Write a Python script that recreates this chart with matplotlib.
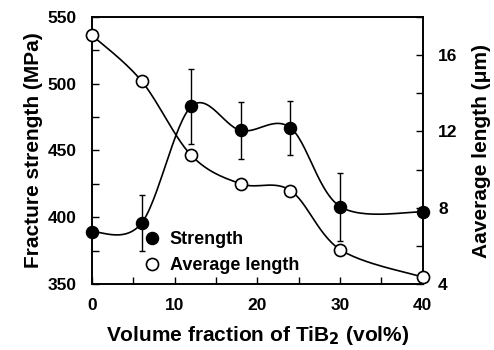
import numpy as np
import matplotlib
matplotlib.use("Agg")
import matplotlib.pyplot as plt
from matplotlib.ticker import MultipleLocator

plt.rcParams['font.family'] = ['Liberation Sans', 'DejaVu Sans']
plt.rcParams['font.weight'] = 'bold'

vol = [0, 6, 12, 18, 24, 30, 40]
strength = [389, 395.5, 483, 465, 467, 408, 404]
strength_err = [0, 21, 28, 21.5, 20, 25.5, 0]
avg_length = [17.05, 14.65, 10.75, 9.25, 8.9, 5.8, 4.35]


def smooth(x, y, xr, yr, n=30):
    # Catmull-Rom style (Excel-like) smoothing in normalized space
    x = np.asarray(x, float); y = np.asarray(y, float)
    xn = (x - xr[0]) / (xr[1] - xr[0])
    yn = (y - yr[0]) / (yr[1] - yr[0])
    P = np.column_stack([xn, yn])
    out = []
    for i in range(len(P) - 1):
        p0 = P[i - 1] if i > 0 else P[i]
        p1 = P[i]; p2 = P[i + 1]
        p3 = P[i + 2] if i + 2 < len(P) else P[i + 1]
        c1 = p1 + (p2 - p0) / 6.0
        c2 = p2 - (p3 - p1) / 6.0
        t = np.linspace(0, 1, n)[:, None]
        seg = ((1 - t) ** 3) * p1 + 3 * ((1 - t) ** 2) * t * c1 + 3 * (1 - t) * t ** 2 * c2 + t ** 3 * p2
        out.append(seg if i == 0 else seg[1:])
    S = np.vstack(out)
    return S[:, 0] * (xr[1] - xr[0]) + xr[0], S[:, 1] * (yr[1] - yr[0]) + yr[0]


fig = plt.figure(figsize=(4.94, 3.5), dpi=100)
ax = fig.add_axes([0.186, 0.189, 0.670, 0.762])
ax2 = ax.twinx()

xr = (0, 40)
ax.set_xlim(*xr)
ax.set_ylim(350, 550)
ax2.set_ylim(4, 18)

sx, sy = smooth(vol, strength, xr, (350, 550))
ax.plot(sx, sy, color='black', lw=1.2, zorder=3)
err_x = [v for v, e in zip(vol, strength_err) if e > 0]
err_y = [s for s, e in zip(strength, strength_err) if e > 0]
err_e = [e for e in strength_err if e > 0]
ax.errorbar(err_x, err_y, yerr=err_e, fmt='none', ecolor='black', elinewidth=1.0, capsize=2.5, capthick=1.0, zorder=3)
h1, = ax.plot(vol, strength, 'o', color='black', markersize=8.7, markerfacecolor='black', markeredgecolor='black', zorder=5, clip_on=False, label='Strength')

lx, ly = smooth(vol, avg_length, xr, (4, 18))
ax2.plot(lx, ly, color='black', lw=1.2, zorder=3)
h2, = ax2.plot(vol, avg_length, 'o', color='black', markersize=8.7, markerfacecolor='white', markeredgecolor='black', markeredgewidth=1.2, zorder=5, clip_on=False, label='Average length')

ax.set_xticks([0, 10, 20, 30, 40])
ax.xaxis.set_minor_locator(MultipleLocator(5))
ax.set_yticks([350, 400, 450, 500, 550])
ax.yaxis.set_minor_locator(MultipleLocator(25))
ax2.set_yticks([4, 8, 12, 16])
ax2.yaxis.set_minor_locator(MultipleLocator(2))

for a in (ax, ax2):
    a.tick_params(which='both', direction='in', width=1.0, labelsize=12.5, colors='black')
    a.tick_params(which='major', length=5)
    a.tick_params(which='minor', length=5)
    for sp in a.spines.values():
        sp.set_linewidth(1.2)
ax.tick_params(axis='x', pad=10)
ax.tick_params(axis='y', pad=11)
ax2.tick_params(axis='y', pad=11)

ax.set_xlabel('Volume fraction of TiB$_\\mathbf{2}$ (vol%)', fontsize=15, fontweight='bold', labelpad=8)
ax.set_ylabel('Fracture strength (MPa)', fontsize=15, fontweight='bold', labelpad=3)
ax2.set_ylabel('Aaverage length (\u03bcm)', fontsize=15, fontweight='bold', labelpad=10)

ax.legend([h1, h2], ['Strength', 'Average length'], loc='lower left', bbox_to_anchor=(0.115, -0.025),
          frameon=False, handlelength=0.6, handletextpad=0.7, labelspacing=0.5,
          prop={'weight': 'bold', 'size': 13})

fig.savefig('out.png', dpi=100)
